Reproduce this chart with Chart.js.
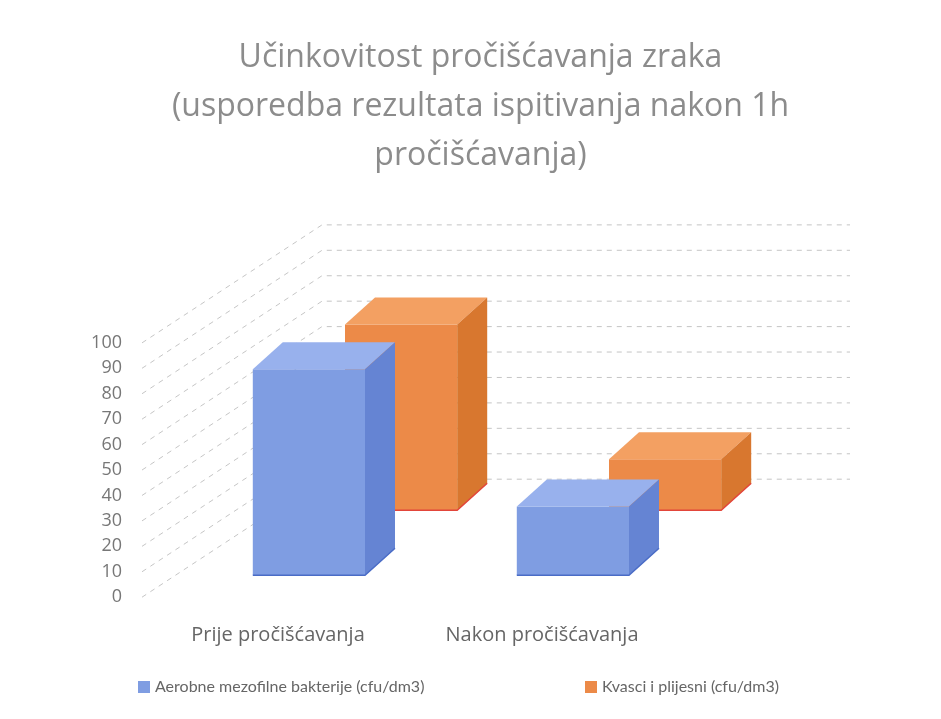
<!DOCTYPE html>
<html>
<head>
<meta charset="utf-8">
<script src="https://cdn.jsdelivr.net/npm/chart.js@4/dist/chart.umd.min.js"></script>
<style>
  html, body { margin: 0; padding: 0; background: #fff; }
  #wrap { width: 941px; height: 719px; }
</style>
</head>
<body>
<div id="wrap"><canvas id="chart" width="941" height="719"></canvas></div>
<script>
// chart data
const categories = ['Prije pročišćavanja', 'Nakon pročišćavanja'];
const aerobne = [81, 27];
const kvasci = [73, 20];
const seriesNames = ['Aerobne mezofilne bakterije (cfu/dm3)', 'Kvasci i plijesni (cfu/dm3)'];
const titleLines = ['Učinkovitost pročišćavanja zraka', '(usporedba rezultata ispitivanja nakon 1h', 'pročišćavanja)'];

// fake 3d look: each series sits at its own depth
const depth = { dx: 30, dy: -27 };
const shifts = [{ x: 0, y: -22 }, { x: -20, y: -87 }];
const faces = [
    { top: '#98b1ed', side: '#6584d3', edge: '#4a6cc6' },
    { top: '#f3a062', side: '#d8772f', edge: '#e2453a' }
];
const legendX = [138, 585];

const fakeDepth = {
    id: 'fakeDepth',
    beforeDatasetsDraw(chart) {
        const ctx = chart.ctx;
        const y = chart.scales.y;
        const wallX = 142, backX = 322, backEnd = 850, backDy = -118;
        ctx.save();
        ctx.strokeStyle = 'rgba(140,140,140,0.5)';
        ctx.lineWidth = 1;
        ctx.setLineDash([5, 5]);
        y.ticks.forEach(t => {
            const py = y.getPixelForValue(t.value);
            ctx.beginPath();
            ctx.moveTo(wallX, py);
            ctx.lineTo(backX, py + backDy);
            ctx.lineTo(backEnd, py + backDy);
            ctx.stroke();
        });
        ctx.restore();
    },
    beforeDatasetDraw(chart, args) {
        const s = shifts[args.index];
        chart.ctx.save();
        chart.ctx.translate(s.x, s.y);
    },
    afterDatasetDraw(chart, args) {
        const ctx = chart.ctx;
        const f = faces[args.index];
        args.meta.data.forEach(bar => {
            const p = bar.getProps(['x', 'y', 'base', 'width'], true);
            const l = p.x - p.width / 2, r = p.x + p.width / 2;
            ctx.fillStyle = f.top;
            ctx.beginPath();
            ctx.moveTo(l, p.y);
            ctx.lineTo(l + depth.dx, p.y + depth.dy);
            ctx.lineTo(r + depth.dx, p.y + depth.dy);
            ctx.lineTo(r, p.y);
            ctx.closePath();
            ctx.fill();
            ctx.fillStyle = f.side;
            ctx.beginPath();
            ctx.moveTo(r, p.y);
            ctx.lineTo(r + depth.dx, p.y + depth.dy);
            ctx.lineTo(r + depth.dx, p.base + depth.dy);
            ctx.lineTo(r, p.base);
            ctx.closePath();
            ctx.fill();
            ctx.strokeStyle = f.edge;
            ctx.lineWidth = 1.5;
            ctx.beginPath();
            ctx.moveTo(l, p.base);
            ctx.lineTo(r, p.base);
            ctx.lineTo(r + depth.dx, p.base + depth.dy);
            ctx.stroke();
        });
        ctx.restore();
    },
    // legend drawn by hand, the built-in one cannot space items this wide
    afterDraw(chart) {
        const ctx = chart.ctx;
        ctx.save();
        ctx.font = '16px Lato';
        ctx.textBaseline = 'middle';
        chart.data.datasets.forEach((ds, i) => {
            ctx.fillStyle = ds.backgroundColor;
            ctx.fillRect(legendX[i], 681, 12, 12);
            ctx.fillStyle = '#666';
            ctx.fillText(ds.label, legendX[i] + 17, 687);
        });
        ctx.restore();
    }
};

const whiteBg = {
    id: 'whiteBg',
    beforeDraw(chart) {
        const ctx = chart.ctx;
        ctx.save();
        ctx.fillStyle = '#fff';
        ctx.fillRect(0, 0, chart.width, chart.height);
        ctx.restore();
    }
};

new Chart(document.getElementById('chart'), {
    type: 'bar',
    data: {
        labels: categories,
        datasets: [
            { label: seriesNames[0], data: aerobne, backgroundColor: '#7f9de2', borderWidth: 0 },
            { label: seriesNames[1], data: kvasci, backgroundColor: '#ec8a48', borderWidth: 0 }
        ]
    },
    options: {
        responsive: false,
        animation: false,
        categoryPercentage: 0.85,
        barPercentage: 1,
        layout: { padding: { left: 30, right: 10, top: 0, bottom: 43 } },
        scales: {
            x: {
                grid: { display: false },
                border: { display: false },
                ticks: {
                    color: '#666',
                    font: { family: 'Open Sans', size: 20 },
                    labelOffset: -87,
                    padding: 18,
                    maxRotation: 0
                }
            },
            y: {
                min: 0,
                max: 100,
                grid: { display: false, drawTicks: false },
                border: { display: false },
                ticks: {
                    stepSize: 10,
                    autoSkip: false,
                    color: '#777',
                    font: { family: 'Open Sans', size: 18 },
                    padding: 111
                },
                afterFit(scale) { scale.width = 203; }
            },
            yRight: {
                position: 'right',
                display: true,
                grid: { display: false },
                border: { display: false },
                ticks: { display: false },
                afterFit(scale) { scale.width = 170; }
            }
        },
        plugins: {
            title: {
                display: true,
                text: titleLines,
                color: '#8c8c8c',
                font: { family: 'Open Sans', size: 32, weight: 'normal', lineHeight: 1.53 },
                padding: { top: 33, bottom: 163 }
            },
            legend: { display: false },
            tooltip: { enabled: false }
        }
    },
    plugins: [whiteBg, fakeDepth]
});
</script>
</body>
</html>
